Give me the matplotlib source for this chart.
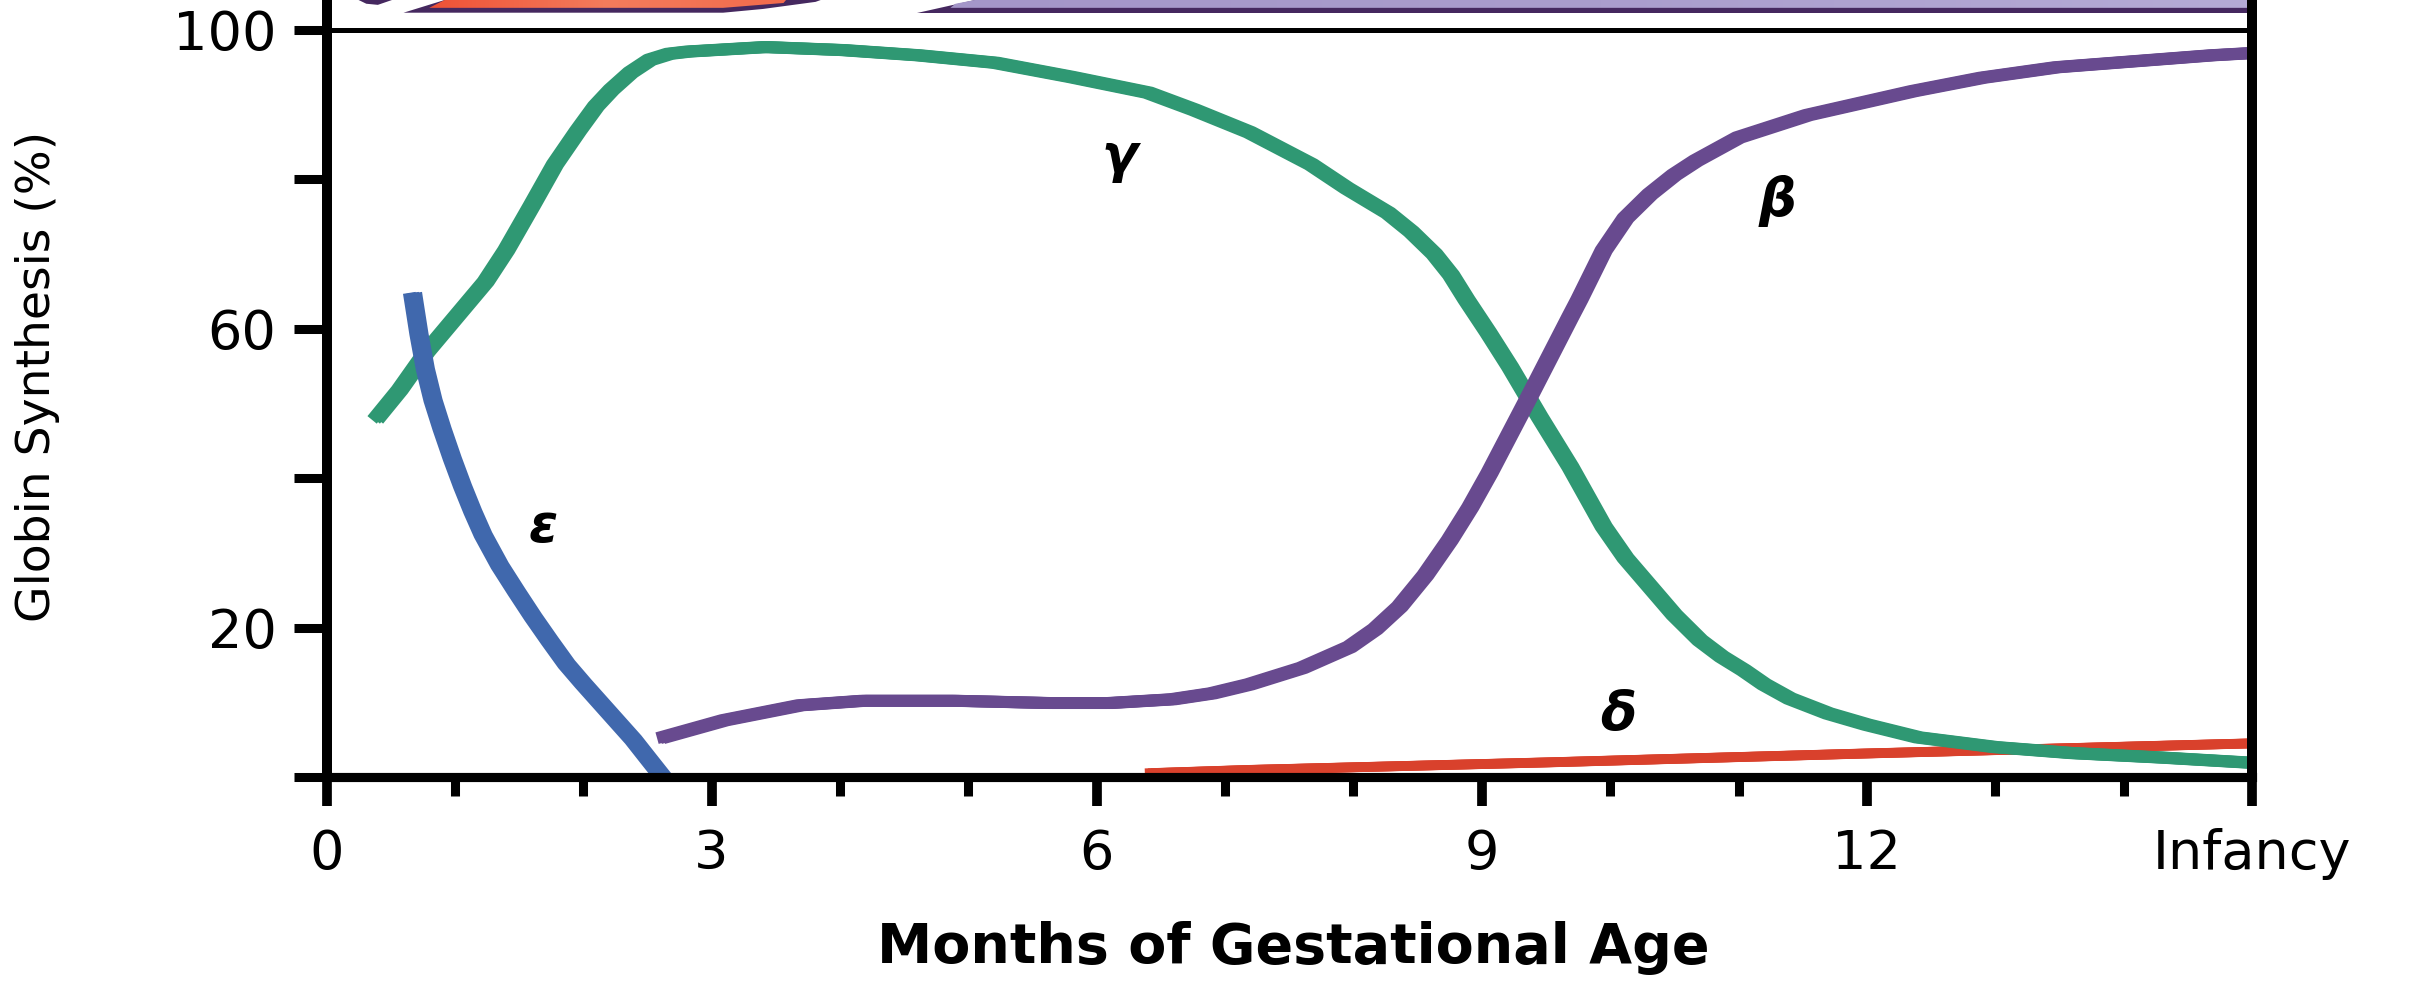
import numpy as np
import matplotlib
matplotlib.use("Agg")
import matplotlib.pyplot as plt
import matplotlib.patheffects as pe
from matplotlib.patches import Polygon
from matplotlib.colors import LinearSegmentedColormap

# ---------------- data ----------------
gamma_x = [0.38, 0.57, 0.78, 1.01, 1.24, 1.40, 1.60, 1.78, 1.96, 2.10, 2.22, 2.37,
           2.52, 2.67, 2.82, 3.42, 4.02, 4.61, 5.21, 5.80, 6.40, 6.76, 7.19, 7.67,
           7.95, 8.27, 8.45, 8.63, 8.76, 8.88, 9.05, 9.22, 9.45, 9.69, 9.95, 10.12,
           10.31, 10.50, 10.70, 10.87, 11.04, 11.20, 11.40, 11.70, 12.00, 12.40,
           13.00, 13.60, 14.30, 15.00]
gamma_y = [47.8, 51.8, 56.9, 61.6, 66.3, 70.5, 76.5, 82.0, 86.5, 89.8, 92.0, 94.3,
           96.0, 96.8, 97.1, 97.7, 97.3, 96.6, 95.6, 93.7, 91.6, 89.3, 86.3, 82.0,
           78.8, 75.5, 73.0, 70.0, 67.2, 63.9, 59.5, 54.9, 48.2, 41.5, 33.5, 29.3,
           25.5, 21.7, 18.3, 16.1, 14.3, 12.4, 10.5, 8.5, 7.0, 5.3,
           4.0, 3.2, 2.6, 1.9]

beta_x = [2.60, 3.10, 3.69, 4.18, 4.90, 5.63, 6.10, 6.59, 6.90, 7.19, 7.60, 7.97,
          8.17, 8.36, 8.56, 8.75, 8.91, 9.06, 9.37, 9.69, 9.76, 9.95, 10.12, 10.31,
          10.50, 10.67, 11.00, 11.54, 12.36, 12.90, 13.48, 14.69, 15.00]
beta_y = [5.2, 7.6, 9.6, 10.2, 10.2, 9.9, 9.9, 10.4, 11.2, 12.4, 14.6, 17.4,
          19.8, 22.8, 27.0, 31.7, 36.1, 40.7, 50.9, 61.6, 63.9, 70.5, 74.8, 78.0,
          80.6, 82.5, 85.6, 88.6, 91.8, 93.6, 95.0, 96.6, 96.9]

eps_x = [0.67, 0.72, 0.77, 0.83, 0.90, 0.98, 1.06, 1.14, 1.22, 1.35, 1.48, 1.61,
         1.74, 1.87, 2.00, 2.13, 2.26, 2.39, 2.50, 2.62]
eps_y = [64.8, 59.3, 54.6, 50.4, 46.6, 42.6, 38.9, 35.5, 32.4, 28.3, 24.8, 21.4,
         18.2, 15.1, 12.5, 10.0, 7.5, 5.0, 2.6, 0.0]

delta_x = [6.40, 7.20, 9.50, 12.00, 15.00]
delta_y = [0.5, 0.95, 1.95, 3.15, 4.5]

x_major = [0, 3, 6, 9, 12, 15]
x_labels = ["0", "3", "6", "9", "12", "Infancy"]
x_minor = [1, 2, 4, 5, 7, 8, 10, 11, 13, 14]
y_major = [0, 20, 40, 60, 80, 100]
y_labels = ["", "20", "", "60", "", "100"]

greek_labels = ["\u03b3", "\u03b2", "\u03b4", "\u03b5"]
greek_x = [6.18, 11.30, 10.06, 1.69]
greek_y = [83.0, 77.1, 8.3, 33.5]

# cut-off bands above the 100 % line (remnants of an upper panel)
red_dark_x = [0.60, 3.09, 3.40, 3.81, 3.85, 0.92]
red_dark_y = [102.3, 102.3, 102.8, 103.75, 104.0, 104.0]
red_fill_x = [0.80, 3.09, 3.56, 3.58, 0.92]
red_fill_y = [102.95, 102.95, 103.6, 104.0, 104.0]
tip_x = [0.25, 0.51, 0.40, 0.31]
tip_y = [104.0, 104.0, 103.35, 103.5]
lav_dark_x = [4.60, 15.0, 15.0, 5.05]
lav_dark_y = [102.3, 102.3, 104.0, 104.0]
lav_fill_x = [4.86, 15.0, 15.0, 5.05, 4.90]
lav_fill_y = [102.95, 102.95, 104.0, 104.0, 103.5]

# ---------------- figure ----------------
W, H, DPI = 2420, 981, 100
fig = plt.figure(figsize=(W / DPI, H / DPI), dpi=DPI)
ax = fig.add_axes([326.5 / W, (H - 777) / H, (2252 - 326.5) / W, 777 / H])
ax.set_xlim(0, 15)
ax.set_ylim(0, 104.0)

GREEN = "#2f9873"
PURPLE = "#684a8f"
BLUE = "#4068ad"
RED = "#d9412c"
DARK = "#45285f"

stretch = [pe.Stroke(offset=(-2.3, 0)), pe.Stroke(offset=(2.3, 0)), pe.Normal()]
lw = 8.6
common = dict(solid_capstyle="butt", solid_joinstyle="round", path_effects=stretch)
ax.plot(delta_x, delta_y, color=RED, lw=7.0, zorder=2, **common)
ax.plot(gamma_x, gamma_y, color=GREEN, lw=lw, zorder=3, **common)
ax.plot(beta_x, beta_y, color=PURPLE, lw=lw, zorder=4, **common)
ax.plot(eps_x, eps_y, color=BLUE, lw=lw + 0.6, zorder=5, **common)

# 100 % line
ax.axhline(100, color="black", lw=3.6, zorder=6)

# top bands
ax.add_patch(Polygon(np.column_stack([red_dark_x, red_dark_y]), closed=True,
                     facecolor=DARK, edgecolor="none", zorder=3))
red_poly = Polygon(np.column_stack([red_fill_x, red_fill_y]), closed=True,
                   facecolor="none", edgecolor="none", zorder=4)
ax.add_patch(red_poly)
cmap = LinearSegmentedColormap.from_list("rg", ["#ee5236", "#f47c5c", "#f26b4c"])
grad = np.linspace(0, 1, 256).reshape(1, -1)
im = ax.imshow(grad, cmap=cmap, aspect="auto",
               extent=[min(red_fill_x), max(red_fill_x), min(red_fill_y), max(red_fill_y)],
               zorder=4, interpolation="bilinear")
im.set_clip_path(red_poly)
ax.add_patch(Polygon(np.column_stack([tip_x, tip_y]), closed=True,
                     facecolor=DARK, edgecolor="none", zorder=3))
ax.add_patch(Polygon(np.column_stack([lav_dark_x, lav_dark_y]), closed=True,
                     facecolor=DARK, edgecolor="none", zorder=3))
lav_poly = Polygon(np.column_stack([lav_fill_x, lav_fill_y]), closed=True,
                   facecolor="none", edgecolor="none", zorder=4)
ax.add_patch(lav_poly)
cmap2 = LinearSegmentedColormap.from_list("lv", ["#a496c9", "#aa9dcd", "#b5abd6"])
im2 = ax.imshow(grad, cmap=cmap2, aspect="auto",
                extent=[min(lav_fill_x), max(lav_fill_x), min(lav_fill_y), max(lav_fill_y)],
                zorder=4, interpolation="bilinear")
im2.set_clip_path(lav_poly)
ax.set_xlim(0, 15)
ax.set_ylim(0, 104.0)

# Greek labels
for t, gx, gy in zip(greek_labels, greek_x, greek_y):
    ax.text(gx, gy, t, fontsize=38, fontweight="bold", fontstyle="italic",
            ha="center", va="center", color="black", zorder=7)

# spines
for s in ["left", "right", "bottom"]:
    ax.spines[s].set_linewidth(7.2)
    ax.spines[s].set_color("black")
    ax.spines[s].set_zorder(8)
ax.spines["top"].set_visible(False)
ax.spines["bottom"].set_linewidth(6.6)

# ticks
ax.set_xticks(x_major)
ax.set_xticklabels(x_labels)
ax.set_xticks(x_minor, minor=True)
ax.set_yticks(y_major)
ax.set_yticklabels(y_labels)
ax.tick_params(axis="x", which="major", direction="out", length=21, width=7,
               pad=16, labelsize=39)
ax.tick_params(axis="x", which="minor", direction="out", length=14, width=6.5)
ax.tick_params(axis="y", which="major", direction="out", length=24, width=6.5,
               pad=12, labelsize=39)
ax.tick_params(right=False, top=False)
ax.set_facecolor("white")

# axis titles
fig.text(1293 / W, (H - 963) / H, "Months of Gestational Age", fontsize=40,
         fontweight="bold", ha="center", va="baseline")
fig.text(38 / W, (H - 376) / H, "Globin Synthesis (%)", fontsize=34,
         rotation=90, ha="center", va="center")

fig.savefig("out.png", dpi=DPI, facecolor="white")
